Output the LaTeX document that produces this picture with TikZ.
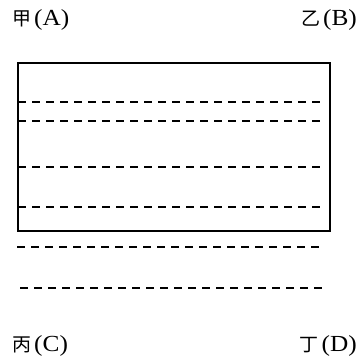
\documentclass[tikz,border=0pt]{standalone}
\usepackage{fontspec}
\setmainfont{Liberation Serif}
\newfontfamily\cjk{Noto Sans CJK SC}[Scale=1]
\tikzset{
  lab/.style={inner sep=0pt, font=\fontsize{23}{25}\selectfont},
  frame/.style={draw=black, line width=1.3pt},
  dline/.style={draw=black, line width=1.6pt, dash pattern=on 8pt off 6pt}
}
\newcommand{\lbl}[2]{{\cjk\fontsize{19}{21}\selectfont #1}\hspace{3pt}\scalebox{1.1}[1]{(#2)}}
\begin{document}
\begin{tikzpicture}[x=1pt,y=-1pt]
\useasboundingbox (0,0) rectangle (361,364);
\node[lab, anchor=west] (A) at (12,20) {\lbl{甲}{A}};
\node[lab, anchor=east] (B) at (357,20) {\lbl{乙}{B}};
\node[lab, anchor=west] (C) at (12,346) {\lbl{丙}{C}};
\node[lab, anchor=east] (D) at (357,346) {\lbl{丁}{D}};
\draw[frame] (18,63) rectangle (330,231);
\coordinate (l1a) at (18,102); \coordinate (l1b) at (321,102);
\coordinate (l2a) at (18,121); \coordinate (l2b) at (321,121);
\coordinate (l3a) at (18,167); \coordinate (l3b) at (321,167);
\coordinate (l4a) at (18,207); \coordinate (l4b) at (321,207);
\coordinate (l5a) at (17,247); \coordinate (l5b) at (319,247);
\coordinate (l6a) at (20,288); \coordinate (l6b) at (322,288);
\draw[dline] (l1a) -- (l1b);
\draw[dline] (l2a) -- (l2b);
\draw[dline] (l3a) -- (l3b);
\draw[dline] (l4a) -- (l4b);
\draw[dline] (l5a) -- (l5b);
\draw[dline] (l6a) -- (l6b);
\end{tikzpicture}
\end{document}
